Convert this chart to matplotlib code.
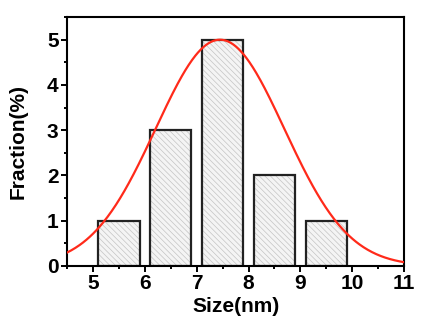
import numpy as np
import matplotlib
matplotlib.use("Agg")
import matplotlib.pyplot as plt
from matplotlib.ticker import MultipleLocator

# histogram bins (nm) and counts
bin_centers = [5.5, 6.5, 7.5, 8.5, 9.5]
fractions = [1, 3, 5, 2, 1]

# gaussian fit parameters
fit_center = 7.45
fit_sigma = 1.24
fit_amp = 5.0

plt.rcParams['font.family'] = ['Liberation Sans', 'DejaVu Sans']
plt.rcParams['font.weight'] = 'bold'
plt.rcParams['hatch.linewidth'] = 0.5

fig = plt.figure(figsize=(4.21, 3.22), dpi=100)
ax = fig.add_axes([0.159, 0.174, 0.801, 0.773])

# faint hatch fill, then the dark outline on top
ax.bar(bin_centers, fractions, width=0.8, color='#f4f4f4', edgecolor='#c4c4c4',
       linewidth=0, hatch='\\\\\\\\\\\\', zorder=2)
ax.bar(bin_centers, fractions, width=0.8, fill=False, edgecolor='#222222',
       linewidth=1.6, zorder=2.5)

xs = np.linspace(4.5, 11, 400)
ax.plot(xs, fit_amp * np.exp(-(xs - fit_center) ** 2 / (2 * fit_sigma ** 2)),
        color='#ff2a1a', lw=1.6, zorder=3)

ax.set_xlim(4.5, 11)
ax.set_ylim(0, 5.5)
ax.xaxis.set_major_locator(MultipleLocator(1))
ax.xaxis.set_minor_locator(MultipleLocator(0.5))
ax.yaxis.set_major_locator(MultipleLocator(1))
ax.yaxis.set_minor_locator(MultipleLocator(0.5))
ax.tick_params(which='both', direction='out', width=1.4, labelsize=15, pad=2)
ax.tick_params(which='major', length=4)
ax.tick_params(which='minor', length=2.5)
for s in ax.spines.values():
    s.set_linewidth(1.5)

ax.set_xlabel('Size(nm)', fontsize=15, fontweight='bold', labelpad=3)
ax.set_ylabel('Fraction(%)', fontsize=15, fontweight='bold', labelpad=14)

plt.savefig("out.png", dpi=100)
plt.close()
